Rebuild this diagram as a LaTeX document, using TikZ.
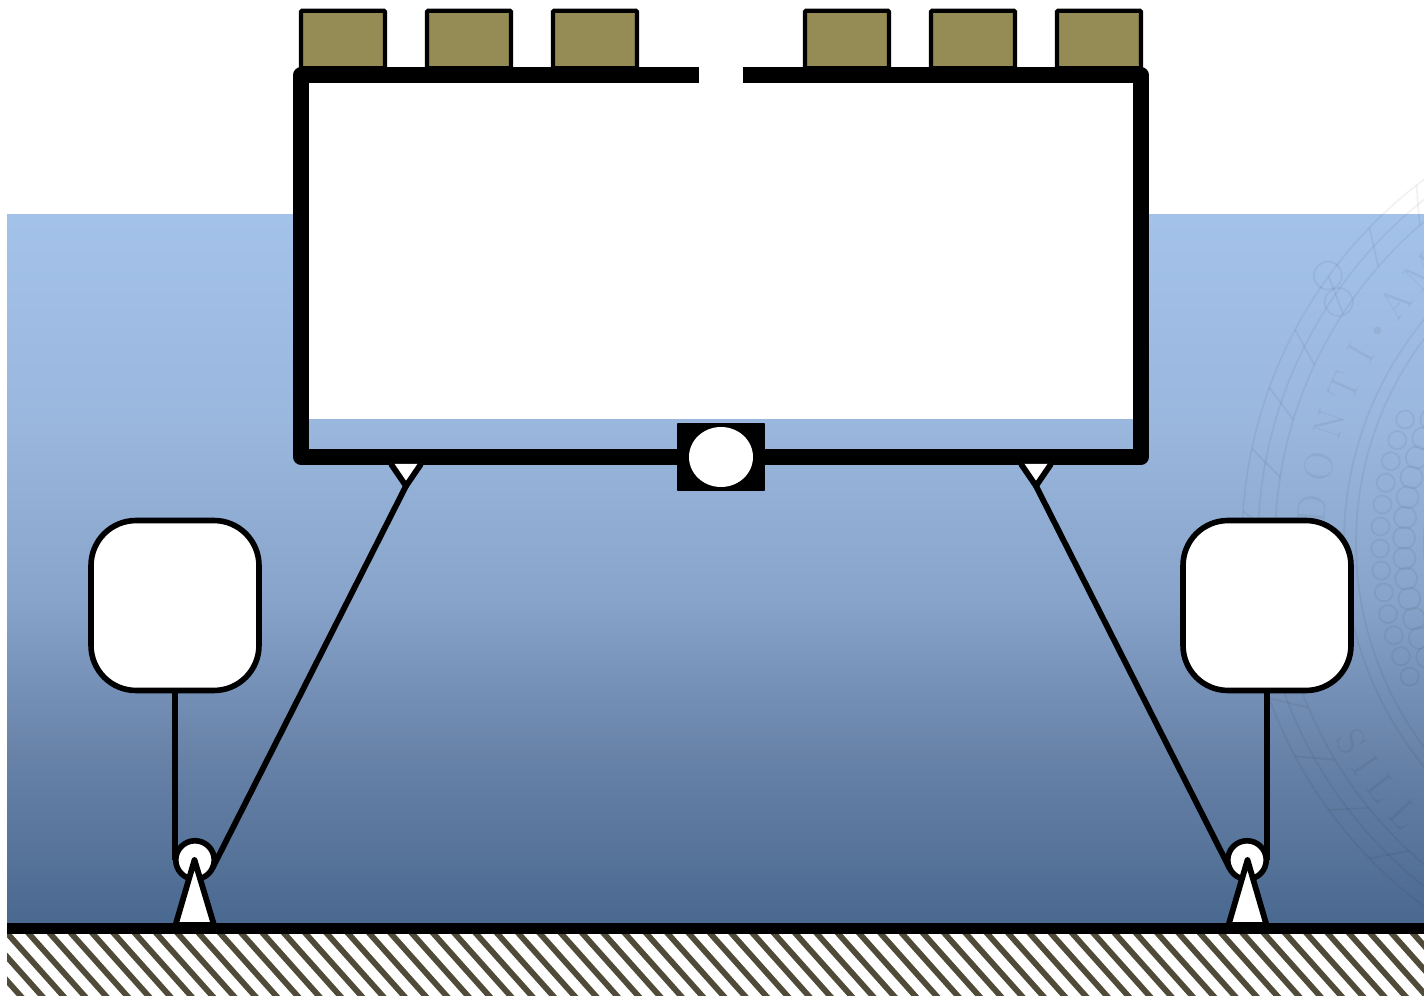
\documentclass[tikz,border=0pt]{standalone}
\definecolor{seatop}{RGB}{163,194,234}
\definecolor{seaupper}{RGB}{154,183,222}
\definecolor{seamid}{RGB}{136,164,202}
\definecolor{sealow}{RGB}{104,130,168}
\definecolor{seabottom}{RGB}{74,105,144}
\definecolor{panelolive}{RGB}{149,139,84}
\definecolor{bedstripe}{RGB}{79,75,56}
\pgfdeclareverticalshading{seawater}{100bp}{color(0bp)=(seabottom); color(25bp)=(seabottom);
  color(37bp)=(sealow); color(48bp)=(seamid); color(60.5bp)=(seaupper); color(75bp)=(seatop); color(100bp)=(seatop)}
\tikzset{
  hullline/.style={line width=8.8pt, line join=round},
  rope/.style={line width=3.3pt},
  panelbox/.style={draw, line width=2.3pt, fill=panelolive, minimum width=1.68cm, minimum height=1.15cm, rounded corners=0.5pt, outer sep=0pt},
  buoybox/.style={draw, line width=3.2pt, fill=white, minimum width=3.36cm, minimum height=3.4cm, rounded corners=0.9cm, outer sep=0pt},
  pulleywheel/.style={circle, draw, line width=3.2pt, fill=white, minimum size=0.77cm, inner sep=0pt, outer sep=0pt},
  gatebox/.style={fill=black, minimum width=1.76cm, minimum height=1.36cm, rounded corners=0.5pt, outer sep=0pt},
  sealline/.style={draw=black, opacity=0.05, line width=1pt},
  sealletter/.style={text=black, text opacity=0.055, inner sep=0pt, font=\fontsize{23}{23}\selectfont},
}
\begin{document}
\begin{tikzpicture}[x=0.02cm, y=-0.02cm]
  \useasboundingbox (0,0) rectangle (1424,996);
  \shade[shading=seawater] (7,215) rectangle (1424,923);
  \begin{scope}[shift={(1696,543)}]
    \foreach \r in {454,438,421,352,340,272}
      \draw[sealline] (0,0) circle (\r);
    \foreach \a in {133,141,...,229}
      \draw[sealline] (\a:421) -- (\a+3:454);
    \foreach \a in {155,159,...,205} {
      \draw[sealline] (\a:316) circle (9);
      \draw[sealline] (\a+2:292) circle (11);
    }
    \draw[sealline] (216:455) circle (14);
    \draw[sealline] (214:431) circle (14);
    \foreach \a/\ch in {185/D,191.5/O,198/N,204/T,209.5/I,218.7/A,224.7/M}
      \node[sealletter, rotate={-\a-90}] at (\a:385) {\ch};
    \fill[black, opacity=0.055] (213.7:383) circle (4);
    \foreach \a/\ch in {150/S,146/I,142/L,137/L}
      \node[sealletter, rotate={90-\a}] at (\a:398) {\ch};
  \end{scope}
  \fill[white] (301,75) rectangle (1141,419);
  \foreach \x/\name in {343/a,469/b,595/c,847/d,973/e,1099/f}
    \node[panelbox] (panel\name) at (\x,39.5) {};
  \draw[hullline] (699,75) -- (301,75) -- (301,457) -- (1141,457) -- (1141,75) -- (743,75);
  \node[gatebox] (gate) at (721,457) {};
  \fill[white] (gate.center) ellipse [x radius=32, y radius=30];
  \coordinate (lugl) at (406,486);
  \coordinate (lugr) at (1036,486);
  \draw[rope, fill=white] (391,464) -- (lugl) -- (421,464);
  \draw[rope, fill=white] (1021,464) -- (lugr) -- (1051,464);
  \node[buoybox] (buoyl) at (175,605.5) {};
  \node[buoybox] (buoyr) at (1267,605.5) {};
  \node[pulleywheel] (pulleyl) at (195,860) {};
  \node[pulleywheel] (pulleyr) at (1247,860) {};
  \draw[rope] (buoyl.south) -- (buoyl.south |- pulleyl.west);
  \draw[rope] (buoyr.south) -- (buoyr.south |- pulleyr.east);
  \draw[rope] (lugl) -- (pulleyl.-27);
  \draw[rope] (lugr) -- (pulleyr.207);
  \draw[rope, fill=white, line join=round] (194.5,860) -- (175.5,925) -- (214,925) -- cycle;
  \draw[rope, fill=white, line join=round] (1247.5,860) -- (1228.5,925) -- (1266.5,925) -- cycle;
  \begin{scope}
    \clip (7,934) rectangle (1424,996);
    \foreach \x in {-80.9,-59.6,...,1424}
      \draw[bedstripe, line width=3.3pt] (\x,930) -- (\x+62.5,1000);
  \end{scope}
  \fill[black] (7,923) rectangle (1424,934);
\end{tikzpicture}
\end{document}
